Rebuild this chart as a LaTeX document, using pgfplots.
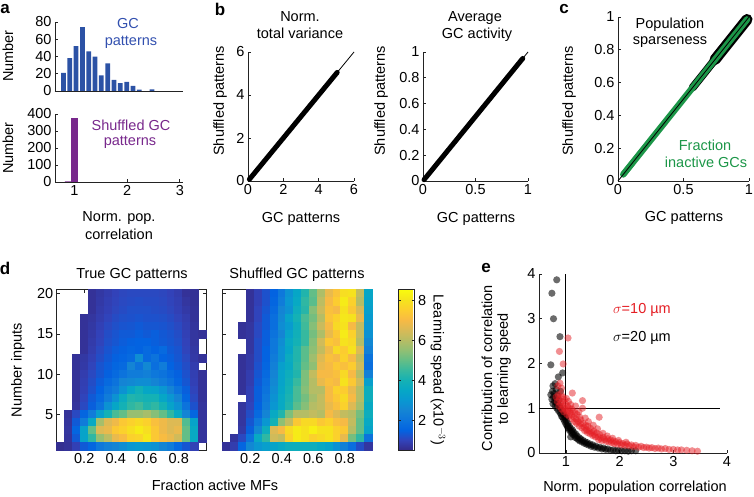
\documentclass[border=0pt]{standalone}
\usepackage{fontspec}
\setmainfont{Liberation Sans}
\usepackage{pgfplots}
\pgfplotsset{compat=1.18}
\definecolor{barblue}{RGB}{44,82,165}
\definecolor{txtblue}{RGB}{50,80,175}
\definecolor{barpurple}{RGB}{120,40,140}
\definecolor{cgreen}{RGB}{28,150,72}
\definecolor{ered}{RGB}{228,30,36}
\definecolor{axgray}{RGB}{35,35,35}
\newcommand\lf{\fontsize{14.5}{17}\selectfont}
\pgfplotsset{
  colormap={parula}{rgb255=(53,42,135) rgb255=(50,67,186) rgb255=(3,99,225) rgb255=(13,117,220) rgb255=(20,133,212) rgb255=(9,152,209) rgb255=(6,167,198) rgb255=(21,177,180) rgb255=(56,185,158) rgb255=(101,190,134) rgb255=(146,191,115) rgb255=(183,189,100) rgb255=(217,186,86) rgb255=(248,186,68) rgb255=(252,206,46) rgb255=(245,228,29) rgb255=(249,251,14)},
  every axis/.append style={
    font=\lf,
    scale only axis,
    anchor=south west,
    /pgf/number format/assume math mode=true,
    tick align=inside,
    major tick length=3pt,
    axis line style={axgray, line width=0.8pt},
    every tick/.style={axgray, line width=0.7pt},
    enlargelimits=false,
  },
  myopen/.style={axis lines*=left, axis line style={-}},
  myheat/.style={width=149.6pt, height=160.6pt, xmin=0.025, xmax=0.975, ymin=0.5, ymax=20.5,
    xtick={0.2,0.4,0.6,0.8}, ytick={5,10,15,20}, axis on top,
    point meta min=0.5, point meta max=8.55},
  mycells/.style={scatter, only marks, mark=square*, mark size=4.05pt, point meta=explicit,
    scatter/use mapped color={draw=mapped color, fill=mapped color}},
  mydots/.style 2 args={only marks, mark=*, mark size=3.6pt,
    mark options={draw opacity=0, line width=0pt, fill=#1, fill opacity=#2}},
}
\begin{document}
\begin{tikzpicture}
\path[use as bounding box] (0pt,0pt) rectangle (754pt,496pt);

% ---------- a: histograms
\begin{axis}[myopen, at={(55pt,405pt)}, width=128pt, height=69pt,
  xmin=0.63, xmax=3.06, ymin=0, ymax=80, ytick={0,20,40,60,80}, xtick=\empty]
\addplot[ybar, bar width=0.09, fill=barblue, draw=none] coordinates {
 (0.79,21) (0.91,38) (1.03,52) (1.15,74) (1.27,46) (1.39,40) (1.51,18) (1.63,32)
 (1.75,13) (1.87,9) (1.99,10.5) (2.11,6) (2.23,1.5) (2.47,2)};
\end{axis}
\begin{axis}[myopen, at={(55pt,314pt)}, width=128pt, height=68pt,
  xmin=0.63, xmax=3.06, ymin=0, ymax=400, ytick={0,100,200,300,400}, xtick={1,2,3}]
\addplot[ybar, bar width=0.125, fill=barpurple, draw=none] coordinates {(0.88,3) (1.0,375)};
\end{axis}

% ---------- b
\begin{axis}[myopen, at={(248pt,315pt)}, width=106pt, height=129pt, clip=false,
  xmin=0, xmax=6, ymin=0, ymax=6, xtick={0,2,4,6}, ytick={0,2,4,6}]
\addplot[black, line width=5pt, line cap=round] coordinates {(0.08,0.08) (5.05,5.05)};
\addplot[black, line width=0.8pt] coordinates {(0,0) (6,6)};
\end{axis}
\begin{axis}[myopen, at={(423pt,315pt)}, width=105pt, height=129pt, clip=false,
  xmin=0, xmax=1, ymin=0, ymax=1, xtick={0,0.5,1}, ytick={0,0.2,0.4,0.6,0.8,1}]
\addplot[black, line width=5pt, line cap=round] coordinates {(0.01,0.01) (0.95,0.95)};
\addplot[black, line width=0.8pt] coordinates {(0,0) (1,1)};
\end{axis}

% ---------- c
\begin{axis}[myopen, at={(618pt,315pt)}, width=131pt, height=164pt, clip=false,
  xmin=0, xmax=1, ymin=0, ymax=1, xtick={0,0.5,1}, ytick={0,0.2,0.4,0.6,0.8,1}]
\addplot[black, line width=8pt, line cap=round] coordinates {(0.57,0.57) (0.74,0.74)};
\addplot[black, line width=11pt, line cap=round] coordinates {(0.74,0.74) (0.985,0.985)};
\addplot[cgreen, line width=6.5pt, line cap=round] coordinates {(0.04,0.04) (0.985,0.985)};
\addplot[black, line width=0.8pt] coordinates {(0,0) (1,1)};
\end{axis}

% ---------- d left
\begin{axis}[myheat, at={(56.7pt,45.7pt)}]
\addplot[mycells] coordinates {
(0.25,20)[0.67] (0.3,20)[0.78] (0.35,20)[0.88] (0.4,20)[0.99] (0.45,20)[1.06] (0.5,20)[1.09] (0.55,20)[1.09] (0.6,20)[1.09] (0.65,20)[1.09] (0.7,20)[1.06] (0.75,20)[0.99] (0.8,20)[0.88] (0.85,20)[0.67] (0.9,20)[0.64]
(0.25,19)[0.67] (0.3,19)[0.81] (0.35,19)[0.92] (0.4,19)[1.02] (0.45,19)[1.09] (0.5,19)[1.13] (0.55,19)[1.16] (0.6,19)[1.13] (0.65,19)[1.13] (0.7,19)[1.09] (0.75,19)[1.02] (0.8,19)[0.92] (0.85,19)[0.74] (0.9,19)[0.64]
(0.25,18)[0.67] (0.3,18)[0.85] (0.35,18)[0.95] (0.4,18)[1.06] (0.45,18)[1.13] (0.5,18)[1.2] (0.55,18)[1.2] (0.6,18)[1.2] (0.65,18)[1.16] (0.7,18)[1.13] (0.75,18)[1.06] (0.8,18)[0.95] (0.85,18)[0.81] (0.9,18)[0.67]
(0.2,17)[0.67] (0.25,17)[0.74] (0.3,17)[0.88] (0.35,17)[1.02] (0.4,17)[1.13] (0.45,17)[1.2] (0.5,17)[1.23] (0.55,17)[1.27] (0.6,17)[1.23] (0.65,17)[1.23] (0.7,17)[1.2] (0.75,17)[1.13] (0.8,17)[1.02] (0.85,17)[0.88] (0.9,17)[0.67]
(0.2,16)[0.67] (0.25,16)[0.78] (0.3,16)[0.95] (0.35,16)[1.09] (0.4,16)[1.2] (0.45,16)[1.27] (0.5,16)[1.3] (0.55,16)[1.37] (0.6,16)[1.3] (0.65,16)[1.3] (0.7,16)[1.27] (0.75,16)[1.2] (0.8,16)[1.09] (0.85,16)[0.92] (0.9,16)[0.71]
(0.2,15)[0.67] (0.25,15)[0.81] (0.3,15)[0.99] (0.35,15)[1.16] (0.4,15)[1.27] (0.45,15)[1.37] (0.5,15)[1.37] (0.55,15)[1.44] (0.6,15)[1.37] (0.65,15)[1.44] (0.7,15)[1.34] (0.75,15)[1.27] (0.8,15)[1.16] (0.85,15)[0.95] (0.9,15)[0.74] (0.95,15)[0.67]
(0.2,14)[0.67] (0.25,14)[0.85] (0.3,14)[1.02] (0.35,14)[1.2] (0.4,14)[1.3] (0.45,14)[1.41] (0.5,14)[1.48] (0.55,14)[1.51] (0.6,14)[1.51] (0.65,14)[1.44] (0.7,14)[1.37] (0.75,14)[1.3] (0.8,14)[1.2] (0.85,14)[0.99] (0.9,14)[0.74]
(0.2,13)[0.67] (0.25,13)[0.88] (0.3,13)[1.09] (0.35,13)[1.27] (0.4,13)[1.41] (0.45,13)[1.48] (0.5,13)[1.58] (0.55,13)[1.51] (0.6,13)[1.71] (0.65,13)[1.51] (0.7,13)[1.71] (0.75,13)[1.37] (0.8,13)[1.27] (0.85,13)[1.02] (0.9,13)[0.78]
(0.15,12)[0.67] (0.2,12)[0.78] (0.25,12)[0.95] (0.3,12)[1.16] (0.35,12)[1.34] (0.4,12)[1.48] (0.45,12)[1.55] (0.5,12)[1.71] (0.55,12)[2.73] (0.6,12)[1.71] (0.65,12)[1.96] (0.7,12)[1.51] (0.75,12)[1.44] (0.8,12)[1.3] (0.85,12)[1.09] (0.9,12)[0.81] (0.95,12)[0.67]
(0.15,11)[0.67] (0.2,11)[0.81] (0.25,11)[1.02] (0.3,11)[1.27] (0.35,11)[1.41] (0.4,11)[1.58] (0.45,11)[1.71] (0.5,11)[2.48] (0.55,11)[1.96] (0.6,11)[2.6] (0.65,11)[1.84] (0.7,11)[2.22] (0.75,11)[1.51] (0.8,11)[1.37] (0.85,11)[1.16] (0.9,11)[0.88]
(0.15,10)[0.67] (0.2,10)[0.88] (0.25,10)[1.09] (0.3,10)[1.3] (0.35,10)[1.48] (0.4,10)[1.71] (0.45,10)[1.96] (0.5,10)[2.22] (0.55,10)[2.22] (0.6,10)[2.35] (0.65,10)[2.09] (0.7,10)[1.96] (0.75,10)[1.71] (0.8,10)[1.48] (0.85,10)[1.23] (0.9,10)[0.92] (0.95,10)[0.67]
(0.15,9)[0.67] (0.2,9)[0.92] (0.25,9)[1.16] (0.3,9)[1.41] (0.35,9)[1.71] (0.4,9)[1.96] (0.45,9)[2.48] (0.5,9)[2.6] (0.55,9)[2.73] (0.6,9)[2.73] (0.65,9)[2.48] (0.7,9)[2.22] (0.75,9)[1.96] (0.8,9)[1.58] (0.85,9)[1.3] (0.9,9)[0.95] (0.95,9)[0.67]
(0.15,8)[0.67] (0.2,8)[0.95] (0.25,8)[1.23] (0.3,8)[1.51] (0.35,8)[1.96] (0.4,8)[2.22] (0.45,8)[2.86] (0.5,8)[3.5] (0.55,8)[3.9] (0.6,8)[3.5] (0.65,8)[3.37] (0.7,8)[2.99] (0.75,8)[2.48] (0.8,8)[1.96] (0.85,8)[1.44] (0.9,8)[1.02] (0.95,8)[0.67]
(0.15,7)[0.67] (0.2,7)[1.02] (0.25,7)[1.37] (0.3,7)[1.71] (0.35,7)[2.22] (0.4,7)[2.86] (0.45,7)[3.7] (0.5,7)[4.2] (0.55,7)[4.1] (0.6,7)[4.0] (0.65,7)[4.0] (0.7,7)[3.5] (0.75,7)[2.99] (0.8,7)[2.48] (0.85,7)[1.58] (0.9,7)[1.09] (0.95,7)[0.67]
(0.15,6)[0.71] (0.2,6)[1.09] (0.25,6)[1.44] (0.3,6)[1.96] (0.35,6)[2.86] (0.4,6)[3.5] (0.45,6)[4.0] (0.5,6)[4.4] (0.55,6)[4.6] (0.6,6)[4.2] (0.65,6)[4.4] (0.7,6)[4.0] (0.75,6)[3.37] (0.8,6)[2.86] (0.85,6)[1.96] (0.9,6)[1.23] (0.95,6)[0.71]
(0.1,5)[0.67] (0.15,5)[1.09] (0.2,5)[1.58] (0.25,5)[2.22] (0.3,5)[3.24] (0.35,5)[4.0] (0.4,5)[4.7] (0.45,5)[5.0] (0.5,5)[5.6] (0.55,5)[5.6] (0.6,5)[5.8] (0.65,5)[5.4] (0.7,5)[5.0] (0.75,5)[4.4] (0.8,5)[3.6] (0.85,5)[2.48] (0.9,5)[1.58] (0.95,5)[0.71]
(0.1,4)[0.71] (0.15,4)[1.37] (0.2,4)[2.22] (0.25,4)[3.6] (0.3,4)[5.8] (0.35,4)[6.6] (0.4,4)[6.9] (0.45,4)[7.4] (0.5,4)[7.6] (0.55,4)[7.8] (0.6,4)[7.6] (0.65,4)[7.2] (0.7,4)[6.9] (0.75,4)[6.6] (0.8,4)[6.6] (0.85,4)[4.8] (0.9,4)[3.37] (0.95,4)[0.71]
(0.1,3)[0.74] (0.15,3)[1.58] (0.2,3)[3.37] (0.25,3)[5.0] (0.3,3)[6.6] (0.35,3)[6.8] (0.4,3)[7.4] (0.45,3)[7.6] (0.5,3)[7.9] (0.55,3)[8.2] (0.6,3)[7.9] (0.65,3)[7.4] (0.7,3)[6.9] (0.75,3)[6.6] (0.8,3)[6.8] (0.85,3)[5.0] (0.9,3)[3.6] (0.95,3)[0.71]
(0.1,2)[0.71] (0.15,2)[1.37] (0.2,2)[3.37] (0.25,2)[4.4] (0.3,2)[5.6] (0.35,2)[6.1] (0.4,2)[6.8] (0.45,2)[7.1] (0.5,2)[7.6] (0.55,2)[7.7] (0.6,2)[8.1] (0.65,2)[7.4] (0.7,2)[7.1] (0.75,2)[6.8] (0.8,2)[6.4] (0.85,2)[5.0] (0.9,2)[3.6] (0.95,2)[0.71]
(0.05,1)[0.6] (0.1,1)[0.67] (0.15,1)[0.95] (0.2,1)[1.37] (0.25,1)[1.58] (0.3,1)[2.09] (0.35,1)[2.35] (0.4,1)[2.48] (0.45,1)[2.73] (0.5,1)[2.99] (0.55,1)[3.12] (0.6,1)[2.99] (0.65,1)[2.86] (0.7,1)[2.48] (0.75,1)[2.22] (0.8,1)[1.71] (0.85,1)[1.3] (0.9,1)[0.95]
};
\end{axis}

% ---------- d right + colorbar
\begin{axis}[myheat, at={(222.7pt,45.7pt)}, yticklabels={},
  colorbar, colorbar style={at={(parent axis.north east)}, anchor=north west, xshift=17.7pt,
    width=16pt, ytick={2,4,6,8}, major tick length=2.5pt, tick align=inside}]
\addplot[mycells] coordinates {
(0.2,20)[0.67] (0.25,20)[0.95] (0.3,20)[1.23] (0.35,20)[1.51] (0.4,20)[2.09] (0.45,20)[2.86] (0.5,20)[3.5] (0.55,20)[4.2] (0.6,20)[5.0] (0.65,20)[5.9] (0.7,20)[6.8] (0.75,20)[7.3] (0.8,20)[7.9] (0.85,20)[8.0] (0.9,20)[6.2] (0.95,20)[3.5]
(0.2,19)[0.67] (0.25,19)[0.95] (0.3,19)[1.23] (0.35,19)[1.58] (0.4,19)[2.22] (0.45,19)[2.99] (0.5,19)[3.6] (0.55,19)[4.4] (0.6,19)[4.9] (0.65,19)[6.1] (0.7,19)[7.0] (0.75,19)[7.5] (0.8,19)[8.2] (0.85,19)[7.6] (0.9,19)[6.0] (0.95,19)[3.37]
(0.2,18)[0.67] (0.25,18)[1.02] (0.3,18)[1.3] (0.35,18)[1.71] (0.4,18)[2.48] (0.45,18)[2.86] (0.5,18)[3.8] (0.55,18)[4.3] (0.6,18)[5.4] (0.65,18)[6.3] (0.7,18)[7.2] (0.75,18)[7.0] (0.8,18)[8.0] (0.85,18)[7.4] (0.9,18)[6.5] (0.95,18)[3.24]
(0.2,17)[0.67] (0.25,17)[1.02] (0.3,17)[1.37] (0.35,17)[1.84] (0.4,17)[2.6] (0.45,17)[3.37] (0.5,17)[4.0] (0.55,17)[4.7] (0.6,17)[5.2] (0.65,17)[6.0] (0.7,17)[7.3] (0.75,17)[7.6] (0.8,17)[8.1] (0.85,17)[8.0] (0.9,17)[6.8] (0.95,17)[3.12]
(0.15,16)[0.67] (0.2,16)[0.74] (0.25,16)[1.09] (0.3,16)[1.37] (0.35,16)[1.84] (0.4,16)[2.73] (0.45,16)[3.12] (0.5,16)[3.8] (0.55,16)[4.6] (0.6,16)[5.4] (0.65,16)[6.3] (0.7,16)[7.0] (0.75,16)[7.8] (0.8,16)[8.0] (0.85,16)[7.0] (0.9,16)[6.2] (0.95,16)[2.99]
(0.15,15)[0.67] (0.2,15)[0.74] (0.25,15)[1.09] (0.3,15)[1.44] (0.35,15)[1.96] (0.4,15)[2.48] (0.45,15)[3.37] (0.5,15)[3.9] (0.55,15)[4.5] (0.6,15)[5.2] (0.65,15)[5.9] (0.7,15)[6.8] (0.75,15)[7.4] (0.8,15)[8.2] (0.85,15)[7.6] (0.9,15)[6.2] (0.95,15)[2.86]
(0.2,14)[0.74] (0.25,14)[1.16] (0.3,14)[1.44] (0.35,14)[2.09] (0.4,14)[2.73] (0.45,14)[3.6] (0.5,14)[4.0] (0.55,14)[4.5] (0.6,14)[5.4] (0.65,14)[6.4] (0.7,14)[7.4] (0.75,14)[7.2] (0.8,14)[8.0] (0.85,14)[7.8] (0.9,14)[6.0] (0.95,14)[2.6]
(0.2,13)[0.74] (0.25,13)[1.16] (0.3,13)[1.51] (0.35,13)[2.09] (0.4,13)[2.86] (0.45,13)[3.5] (0.5,13)[4.2] (0.55,13)[4.9] (0.6,13)[5.5] (0.65,13)[6.2] (0.7,13)[6.9] (0.75,13)[7.8] (0.8,13)[7.5] (0.85,13)[8.0] (0.9,13)[6.6] (0.95,13)[2.35]
(0.15,12)[0.67] (0.2,12)[0.81] (0.25,12)[1.16] (0.3,12)[1.51] (0.35,12)[2.22] (0.4,12)[2.86] (0.45,12)[3.7] (0.5,12)[4.2] (0.55,12)[4.9] (0.6,12)[5.7] (0.65,12)[6.6] (0.7,12)[7.2] (0.75,12)[7.0] (0.8,12)[7.6] (0.85,12)[7.0] (0.9,12)[6.2] (0.95,12)[1.96]
(0.15,11)[0.67] (0.2,11)[0.81] (0.25,11)[1.23] (0.3,11)[1.58] (0.35,11)[2.35] (0.4,11)[3.24] (0.45,11)[3.6] (0.5,11)[4.3] (0.55,11)[5.0] (0.6,11)[5.5] (0.65,11)[6.8] (0.7,11)[7.0] (0.75,11)[7.4] (0.8,11)[7.2] (0.85,11)[7.5] (0.9,11)[6.4] (0.95,11)[1.84]
(0.15,10)[0.67] (0.2,10)[0.88] (0.25,10)[1.3] (0.3,10)[1.71] (0.35,10)[2.48] (0.4,10)[3.37] (0.45,10)[3.8] (0.5,10)[4.2] (0.55,10)[5.3] (0.6,10)[6.2] (0.65,10)[7.0] (0.7,10)[7.0] (0.75,10)[7.2] (0.8,10)[7.8] (0.85,10)[7.0] (0.9,10)[6.0] (0.95,10)[2.35]
(0.15,9)[0.67] (0.2,9)[0.88] (0.25,9)[1.37] (0.3,9)[1.84] (0.35,9)[2.6] (0.4,9)[3.37] (0.45,9)[3.9] (0.5,9)[4.5] (0.55,9)[5.3] (0.6,9)[6.0] (0.65,9)[6.8] (0.7,9)[7.2] (0.75,9)[7.0] (0.8,9)[8.0] (0.85,9)[7.4] (0.9,9)[6.4] (0.95,9)[3.24]
(0.15,8)[0.67] (0.2,8)[0.95] (0.25,8)[1.44] (0.3,8)[1.96] (0.35,8)[2.73] (0.4,8)[3.5] (0.45,8)[4.0] (0.5,8)[4.7] (0.55,8)[5.4] (0.6,8)[6.0] (0.65,8)[6.0] (0.7,8)[7.0] (0.75,8)[7.6] (0.8,8)[7.5] (0.85,8)[6.8] (0.9,8)[6.0] (0.95,8)[3.8]
(0.2,7)[0.95] (0.25,7)[1.44] (0.3,7)[2.09] (0.35,7)[2.86] (0.4,7)[3.6] (0.45,7)[4.1] (0.5,7)[4.7] (0.55,7)[5.2] (0.6,7)[5.8] (0.65,7)[6.2] (0.7,7)[7.0] (0.75,7)[7.4] (0.8,7)[7.8] (0.85,7)[7.0] (0.9,7)[6.0] (0.95,7)[3.8]
(0.15,6)[0.74] (0.2,6)[1.02] (0.25,6)[1.51] (0.3,6)[2.22] (0.35,6)[2.99] (0.4,6)[3.6] (0.45,6)[4.2] (0.5,6)[4.9] (0.55,6)[5.4] (0.6,6)[6.0] (0.65,6)[6.2] (0.7,6)[6.8] (0.75,6)[7.2] (0.8,6)[7.6] (0.85,6)[6.6] (0.9,6)[5.8] (0.95,6)[3.6]
(0.15,5)[0.74] (0.2,5)[1.16] (0.25,5)[1.71] (0.3,5)[2.48] (0.35,5)[3.6] (0.4,5)[4.2] (0.45,5)[5.3] (0.5,5)[6.0] (0.55,5)[6.0] (0.6,5)[6.2] (0.65,5)[6.0] (0.7,5)[7.0] (0.75,5)[6.6] (0.8,5)[6.2] (0.85,5)[6.0] (0.9,5)[5.2] (0.95,5)[3.8]
(0.15,4)[0.74] (0.2,4)[1.3] (0.25,4)[2.09] (0.3,4)[2.99] (0.35,4)[4.0] (0.4,4)[5.5] (0.45,4)[6.2] (0.5,4)[7.4] (0.55,4)[7.8] (0.6,4)[7.8] (0.65,4)[7.4] (0.7,4)[7.6] (0.75,4)[7.2] (0.8,4)[7.0] (0.85,4)[6.2] (0.9,4)[5.0] (0.95,4)[3.6]
(0.15,3)[0.81] (0.2,3)[1.44] (0.25,3)[2.6] (0.3,3)[3.8] (0.35,3)[6.6] (0.4,3)[7.0] (0.45,3)[7.8] (0.5,3)[8.2] (0.55,3)[8.0] (0.6,3)[8.3] (0.65,3)[8.0] (0.7,3)[8.0] (0.75,3)[7.6] (0.8,3)[7.4] (0.85,3)[6.0] (0.9,3)[5.0] (0.95,3)[3.37]
(0.1,2)[0.71] (0.15,2)[1.09] (0.2,2)[1.96] (0.25,2)[3.6] (0.3,2)[4.4] (0.35,2)[6.4] (0.4,2)[6.2] (0.45,2)[7.6] (0.5,2)[8.2] (0.55,2)[8.0] (0.6,2)[7.6] (0.65,2)[7.8] (0.7,2)[8.0] (0.75,2)[7.6] (0.8,2)[6.8] (0.85,2)[5.2] (0.9,2)[4.4] (0.95,2)[1.96]
(0.05,1)[0.67] (0.1,1)[0.88] (0.15,1)[1.58] (0.2,1)[2.6] (0.25,1)[2.99] (0.3,1)[3.24] (0.35,1)[3.37] (0.4,1)[3.6] (0.45,1)[3.8] (0.5,1)[3.8] (0.55,1)[3.8] (0.6,1)[3.8] (0.65,1)[3.6] (0.7,1)[3.37] (0.75,1)[2.86] (0.8,1)[2.35] (0.85,1)[1.84] (0.9,1)[1.16] (0.95,1)[0.74]
};
\end{axis}

% ---------- e
\begin{axis}[myopen, at={(539pt,43pt)}, width=188pt, height=179pt, clip=false,
  xmin=0.5, xmax=4, ymin=0, ymax=4, xtick={1,2,3,4}, ytick={0,1,2,3,4}]
\addplot[mydots={black}{0.58}] coordinates {
(0.83,3.87) (0.74,3.57) (0.77,3.0) (0.89,2.6) (0.72,1.97) (0.94,1.79) (0.86,1.7) (0.8,1.55) (0.76,1.5) (0.82,1.42)
(0.72,1.3) (0.74,1.2) (0.75,1.38) (0.76,1.1) (0.77,1.25) (0.78,1.33) (0.79,1.15) (0.8,1.05) (0.81,1.22) (0.82,1.12)
(0.83,1.0) (0.84,1.28) (0.85,1.1) (0.86,0.95) (0.87,1.18) (0.88,1.05) (0.89,0.9) (0.9,1.0) (0.9,1.38) (0.91,0.88)
(0.92,0.82) (0.93,0.95) (0.94,0.8) (0.95,0.9) (0.96,0.75) (0.97,0.85) (0.98,0.7) (0.99,0.78) (1.0,0.8) (1.0,0.65)
(1.01,0.72) (1.02,0.62) (1.03,0.58) (1.04,0.66) (1.05,0.55) (1.06,0.6) (1.07,0.5) (1.08,0.56) (1.09,0.36) (1.1,0.5)
(1.11,0.45) (1.12,0.52) (1.13,0.42) (1.14,0.47) (1.16,0.4) (1.17,0.35) (1.18,0.43) (1.2,0.33) (1.21,0.38) (1.23,0.3)
(1.25,0.34) (1.26,0.27) (1.28,0.31) (1.3,0.25) (1.32,0.28) (1.34,0.22) (1.36,0.25) (1.38,0.2) (1.4,0.23) (1.42,0.18)
(1.45,0.2) (1.47,0.15) (1.5,0.18) (1.53,0.13) (1.56,0.15) (1.6,0.11) (1.63,0.13) (1.67,0.09) (1.7,0.11) (1.74,0.08)
(1.78,0.09) (1.83,0.06) (1.88,0.07) (1.93,0.05) (1.98,0.06) (2.04,0.05) (2.1,0.05) (2.16,0.04) (2.22,0.05) (2.3,0.05)};
\addplot[mydots={ered}{0.5}] coordinates {
(1.04,2.57) (0.88,2.27) (0.95,1.99) (0.89,1.56) (0.85,1.5) (0.92,1.45)
(0.82,1.25) (0.84,1.15) (0.86,1.3) (0.87,1.05) (0.88,1.2) (0.9,1.1) (0.91,1.32) (0.92,0.98) (0.93,1.15) (0.94,1.25)
(0.95,1.05) (0.96,0.92) (0.97,1.2) (0.98,1.0) (0.99,1.1) (1.0,0.95) (1.01,1.22) (1.02,0.86) (1.03,1.05) (1.04,0.95)
(1.05,1.15) (1.06,0.82) (1.07,1.0) (1.08,0.9) (1.09,1.08) (1.1,0.85) (1.11,0.98) (1.12,0.76) (1.12,1.34) (1.13,0.93)
(1.15,0.8) (1.16,0.7) (1.17,0.9) (1.18,1.05) (1.19,0.76) (1.2,0.66) (1.21,0.86) (1.23,0.7) (1.24,0.92) (1.25,0.6)
(1.26,0.8) (1.27,0.66) (1.28,0.74) (1.3,0.56) (1.31,1.0) (1.31,1.17) (1.32,0.66) (1.34,0.58) (1.35,0.5) (1.36,0.78)
(1.37,0.62) (1.38,0.52) (1.4,0.46) (1.41,0.6) (1.42,0.7) (1.43,0.49) (1.45,0.43) (1.46,0.55) (1.48,0.46) (1.5,0.39)
(1.51,0.62) (1.52,0.49) (1.53,0.41) (1.55,0.36) (1.57,0.45) (1.59,0.54) (1.6,0.36) (1.61,0.3) (1.62,0.8) (1.63,0.41)
(1.65,0.33) (1.67,0.28) (1.69,0.44) (1.7,0.35) (1.72,0.3) (1.75,0.26) (1.77,0.38) (1.78,0.32) (1.8,0.25) (1.83,0.29)
(1.85,0.23) (1.87,0.33) (1.88,0.27) (1.9,0.21) (1.93,0.25) (1.96,0.2) (1.98,0.28) (2.0,0.23) (2.03,0.18) (2.06,0.21)
(2.1,0.17) (2.12,0.24) (2.14,0.2) (2.18,0.16) (2.22,0.18) (2.26,0.14) (2.3,0.17) (2.35,0.13) (2.4,0.15) (2.45,0.12)
(2.5,0.13) (2.55,0.11) (2.6,0.12) (2.66,0.1) (2.72,0.11) (2.78,0.09) (2.85,0.1) (2.92,0.08) (3.0,0.08) (3.08,0.07)
(3.15,0.07) (3.25,0.06) (3.35,0.05) (3.45,0.04)};
\addplot[black, line width=1pt] coordinates {(1,0) (1,4)};
\addplot[black, line width=1pt] coordinates {(0.5,1) (3.87,1)};
\end{axis}

% ---------- texts
\begin{scope}[every node/.style={font=\lf, inner sep=0pt}]
\node[font=\fontsize{17}{20}\bfseries\selectfont] at (5pt,487pt) {a};
\node[font=\fontsize{17}{20}\bfseries\selectfont] at (220pt,487pt) {b};
\node[font=\fontsize{17}{20}\bfseries\selectfont] at (564pt,487pt) {c};
\node[font=\fontsize{17}{20}\bfseries\selectfont] at (5pt,228pt) {d};
\node[font=\fontsize{17}{20}\bfseries\selectfont] at (486pt,228pt) {e};
\node[rotate=90] at (8pt,440pt) {Number};
\node[rotate=90] at (8pt,348pt) {Number};
\node[text=txtblue] at (128pt,472pt) {GC};
\node[text=txtblue] at (131pt,454pt) {patterns};
\node[text=barpurple] at (131pt,371pt) {Shuffled GC};
\node[text=barpurple] at (130pt,353.5pt) {patterns};
\node at (119pt,278pt) {Norm. pop.};
\node at (119pt,262pt) {correlation};
\node[anchor=base] at (300pt,474pt) {Norm.};
\node[anchor=base] at (300pt,457pt) {total variance};
\node[anchor=base] at (475pt,474pt) {Average};
\node[anchor=base] at (477pt,457pt) {GC activity};
\node[rotate=90] at (220pt,395pt) {Shuffled patterns};
\node[rotate=90] at (381pt,395pt) {Shuffled patterns};
\node[rotate=90] at (569pt,395pt) {Shuffled patterns};
\node at (301pt,277pt) {GC patterns};
\node at (476pt,277pt) {GC patterns};
\node at (684pt,278pt) {GC patterns};
\node[anchor=base] at (670pt,467pt) {Population};
\node[anchor=base] at (670pt,451pt) {sparseness};
\node[anchor=base, text=cgreen] at (705pt,345pt) {Fraction};
\node[anchor=base, text=cgreen] at (706pt,328pt) {inactive GCs};
\node[anchor=base] at (132pt,218pt) {True GC patterns};
\node[anchor=base] at (297pt,218pt) {Shuffled GC patterns};
\node[rotate=90] at (18pt,126pt) {Number inputs};
\node[anchor=base] at (215pt,5.5pt) {Fraction active MFs};
\node[rotate=-90] at (438pt,126pt) {Learning spead (x10$^{-3}$)};
\node[text=ered] at (642pt,186pt) {$\sigma$=10 µm};
\node at (642pt,158pt) {$\sigma$=20 µm};
\node[rotate=90] at (487pt,128pt) {Contribution of correlation};
\node[rotate=90] at (504pt,127pt) {to learning speed};
\node at (635pt,8.5pt) {Norm. population correlation};
\end{scope}
\end{tikzpicture}
\end{document}
